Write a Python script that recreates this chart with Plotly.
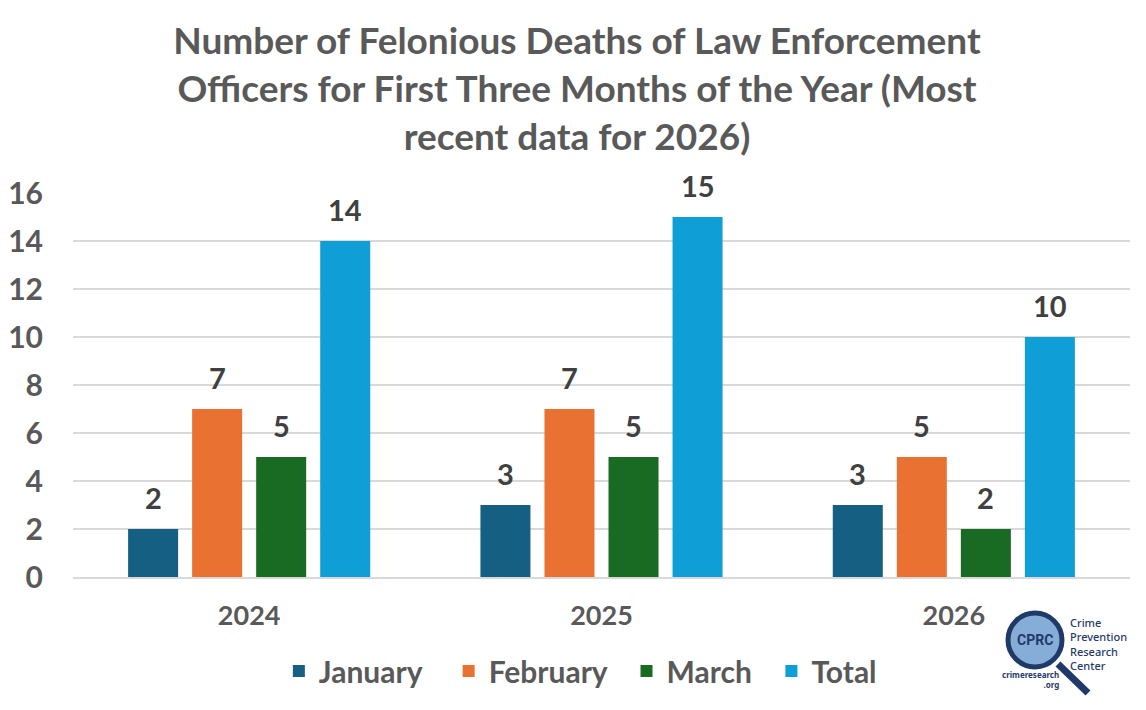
import plotly.graph_objects as go

years = ["2024", "2025", "2026"]
series_names = ["January", "February", "March", "Total"]
january = [2, 3, 3]
february = [7, 7, 5]
march = [5, 5, 2]
total = [14, 15, 10]
colors = ["#156082", "#E97132", "#196B24", "#0F9ED5"]
y_ticks = [0, 2, 4, 6, 8, 10, 12, 14, 16]

FONT = "Lato"
GRAY = "#595959"
NB = "\u00a0"

# the page body has an 8px margin, so the figure is drawn 8px smaller
W, H = 1138, 702
ML, MR, MT, MB = 65, 16, 185, 133
BARGAP, GROUPGAP = 0.273, 0.219
plot_w = W - ML - MR
slot = plot_w / len(years) * (1 - BARGAP) / len(series_names)

fig = go.Figure()
all_vals = [january, february, march, total]
pads = [NB * 3, NB * 2, NB * 2, ""]
for name, vals, col, pad in zip(series_names, all_vals, colors, pads):
    fig.add_trace(go.Bar(
        x=years, y=vals, name=name + pad, marker=dict(color=col, line=dict(width=0)),
    ))

# data labels (x given as category index on the category axis)
for i, vals in enumerate(all_vals):
    for j, v in enumerate(vals):
        fig.add_annotation(
            x=j, y=v, xref="x", yref="y", text=f"<b>{v}</b>", showarrow=False,
            xanchor="center", xshift=(i - (len(series_names) - 1) / 2) * slot,
            yanchor="bottom", yshift=12,
            font=dict(family=FONT, size=29, color="#404040"),
        )

fig.update_layout(
    width=W, height=H,
    paper_bgcolor="white", plot_bgcolor="white",
    margin=dict(l=ML, r=MR, t=MT, b=MB, autoexpand=False),
    barmode="group", bargap=BARGAP, bargroupgap=GROUPGAP,
    title=dict(
        text="<b>Number of Felonious Deaths of Law Enforcement</b><br><b>Officers for First Three Months of the Year (Most</b><br><b>recent data for 2026)</b>",
        x=0.5, xanchor="center", y=0.935, yanchor="top",
        font=dict(family=FONT, size=37, color=GRAY),
    ),
    xaxis=dict(
        type="category", automargin=False,
        tickfont=dict(family=FONT, size=27, color=GRAY, weight="bold"),
        showgrid=False, showline=True, linecolor="#d9d9d9", linewidth=1.5,
        ticks="", ticklabelstandoff=14,
    ),
    yaxis=dict(
        range=[0, 16], tickvals=y_ticks, ticktext=[str(t) for t in y_ticks],
        automargin=False,
        tickfont=dict(family=FONT, size=30, color=GRAY, weight="bold"),
        showgrid=True, gridcolor="#d9d9d9", gridwidth=1.5, zeroline=False,
        ticks="", ticklabelstandoff=29,
    ),
    legend=dict(
        orientation="h", x=0.48, xanchor="center", y=-0.245, yanchor="middle",
        font=dict(family=FONT, size=30, color=GRAY, weight="bold"),
        itemwidth=30, traceorder="normal",
    ),
    showlegend=True,
)

# logo (decorative), positioned in page pixels
navy = "#1f3a68"
def px(x):
    return (x - 8 - ML) / plot_w
def py(y):
    return (H - MB + 8 - y) / (H - MT - MB)

fig.add_shape(type="line", xref="paper", yref="paper", x0=px(1058), y0=py(664), x1=px(1088), y1=py(693),
              line=dict(color=navy, width=7), layer="below")
fig.add_shape(type="circle", xref="paper", yref="paper", x0=px(1008), y0=py(613), x1=px(1062), y1=py(667),
              fillcolor="#86acd8", line=dict(color=navy, width=5), layer="below")
fig.add_annotation(xref="paper", yref="paper", x=px(1035), y=py(640), text="<b>CPRC</b>", showarrow=False,
                   xanchor="center", yanchor="middle", font=dict(family="Roboto", size=14, color=navy))
fig.add_annotation(xref="paper", yref="paper", x=px(1068), y=py(644), xanchor="left", yanchor="middle",
                   text="Crime<br>Prevention<br>Research<br>Center", showarrow=False, align="left",
                   font=dict(family="Noto Sans", size=11, color=navy, weight=500))
fig.add_annotation(xref="paper", yref="paper", x=px(1061), y=py(679), xanchor="right", yanchor="middle",
                   text="<b>crimeresearch</b><br><b>.org</b>", showarrow=False, align="right",
                   font=dict(family="Noto Sans", size=8, color=navy))

fig.write_html("out.html")
